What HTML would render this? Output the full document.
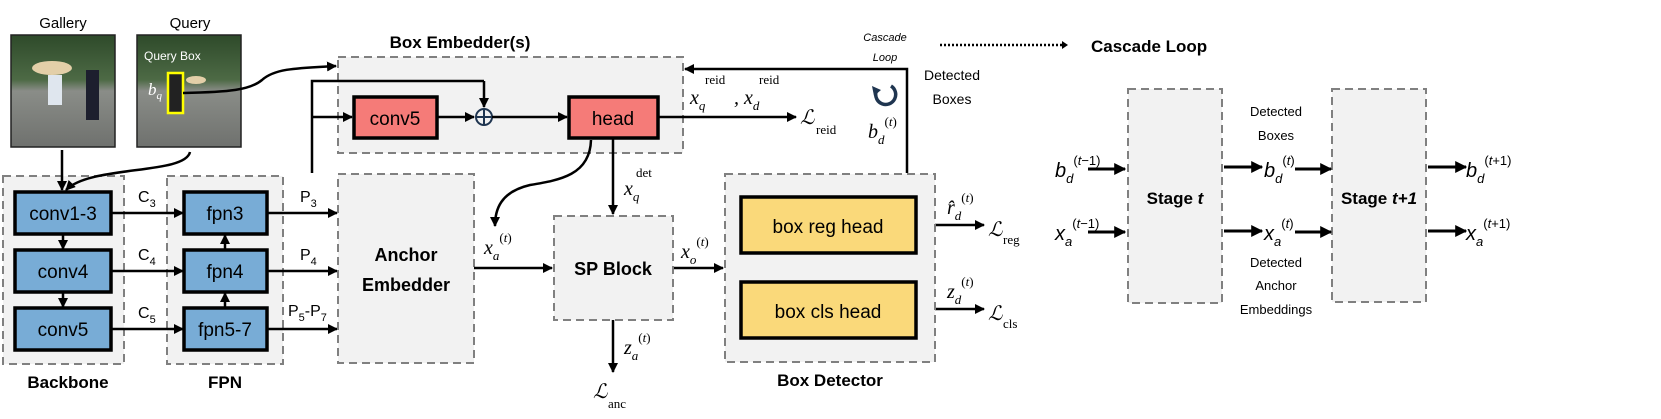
<!DOCTYPE html>
<html><head><meta charset="utf-8"><style>
html,body{margin:0;padding:0;background:#fff;}
svg text{font-family:"Liberation Sans",sans-serif;}
.m{font-family:"Liberation Serif",serif;font-style:italic;}
.r{font-family:"Liberation Serif",serif;}
</style></head><body>
<svg width="1661" height="414" viewBox="0 0 1661 414" xmlns="http://www.w3.org/2000/svg">
<defs>
<marker id="a" viewBox="0 0 10 10" refX="9" refY="5" markerWidth="4" markerHeight="4" orient="auto"><path d="M0,0L10,5L0,10z" fill="#000"/></marker>
<linearGradient id="img" x1="0" y1="0" x2="0" y2="1"><stop offset="0" stop-color="#2e4a2a"/><stop offset="0.4" stop-color="#4d6a45"/><stop offset="0.5" stop-color="#8a8d88"/><stop offset="1" stop-color="#6f716e"/></linearGradient>
</defs>
<!-- images -->
<text x="63" y="28" font-size="15" text-anchor="middle">Gallery</text>
<text x="190" y="28" font-size="15" text-anchor="middle">Query</text>
<rect x="11" y="35" width="104" height="112" fill="url(#img)" stroke="#222" stroke-width="1.5"/>
<ellipse cx="52" cy="68" rx="20" ry="7" fill="#e3cfa8"/>
<rect x="48" y="75" width="14" height="30" fill="#dfe6ee"/>
<rect x="86" y="70" width="13" height="50" fill="#1d1f2e"/>
<rect x="137" y="35" width="104" height="112" fill="url(#img)" stroke="#222" stroke-width="1.5"/>
<text x="144" y="60" font-size="12" fill="#fff">Query Box</text>
<rect x="168" y="73" width="15" height="40" fill="#222" stroke="#ff0" stroke-width="2.5"/>
<ellipse cx="196" cy="80" rx="10" ry="4" fill="#e3cfa8"/>
<text x="148" y="95" font-size="17" fill="#fff" class="m">b<tspan font-size="11" dy="4">q</tspan></text>
<!-- backbone -->
<rect x="3" y="176" width="121" height="188" fill="#f2f2f2" stroke="#808080" stroke-width="2" stroke-dasharray="8,5"/>
<rect x="167" y="176" width="116" height="188" fill="#f2f2f2" stroke="#808080" stroke-width="2" stroke-dasharray="8,5"/>
<g fill="#78acd6" stroke="#000" stroke-width="3.5">
<rect x="15" y="192" width="96" height="42"/><rect x="15" y="250" width="96" height="42"/><rect x="15" y="308" width="96" height="42"/>
<rect x="184" y="192" width="83" height="42"/><rect x="184" y="250" width="83" height="42"/><rect x="184" y="308" width="83" height="42"/>
</g>
<g font-size="19" text-anchor="middle"><text x="63" y="220">conv1-3</text><text x="63" y="278">conv4</text><text x="63" y="336">conv5</text>
<text x="225" y="220">fpn3</text><text x="225" y="278">fpn4</text><text x="225" y="336">fpn5-7</text></g>
<text x="68" y="388" font-size="17" font-weight="bold" text-anchor="middle">Backbone</text>
<text x="225" y="388" font-size="17" font-weight="bold" text-anchor="middle">FPN</text>
<g stroke="#000" stroke-width="2.5" fill="none" marker-end="url(#a)">
<line x1="63" y1="234" x2="63" y2="249"/><line x1="63" y1="292" x2="63" y2="307"/>
<line x1="225" y1="308" x2="225" y2="293"/><line x1="225" y1="250" x2="225" y2="235"/>
<line x1="111" y1="213" x2="183" y2="213"/><line x1="111" y1="271" x2="183" y2="271"/><line x1="111" y1="329" x2="183" y2="329"/>
<line x1="267" y1="213" x2="337" y2="213"/><line x1="267" y1="271" x2="337" y2="271"/><line x1="267" y1="329" x2="337" y2="329"/>
<line x1="62" y1="150" x2="62" y2="190"/>
<path d="M190,152 C185,175 90,165 66,190"/>
<path d="M183,93 C230,92 250,90 262,80 C275,68 300,68 336,66"/>
</g>
<g font-size="16"><text x="138" y="202">C<tspan font-size="11" dy="5">3</tspan></text><text x="138" y="260">C<tspan font-size="11" dy="5">4</tspan></text><text x="138" y="318">C<tspan font-size="11" dy="5">5</tspan></text>
<text x="300" y="202">P<tspan font-size="11" dy="5">3</tspan></text><text x="300" y="260">P<tspan font-size="11" dy="5">4</tspan></text><text x="288" y="316">P<tspan font-size="11" dy="5">5</tspan><tspan dy="-5">-P</tspan><tspan font-size="11" dy="5">7</tspan></text></g>
<!-- anchor embedder -->
<rect x="338" y="174" width="136" height="189" fill="#f2f2f2" stroke="#808080" stroke-width="2" stroke-dasharray="8,5"/>
<text x="406" y="261" font-size="18" font-weight="bold" text-anchor="middle">Anchor</text>
<text x="406" y="291" font-size="18" font-weight="bold" text-anchor="middle">Embedder</text>
<!-- box embedder -->
<text x="460" y="48" font-size="17" font-weight="bold" text-anchor="middle">Box Embedder(s)</text>
<rect x="338" y="57" width="345" height="96" fill="#f2f2f2" stroke="#808080" stroke-width="2" stroke-dasharray="8,5"/>
<rect x="354" y="97" width="83" height="41" fill="#f57b78" stroke="#000" stroke-width="3.5"/>
<text x="395" y="125" font-size="19" text-anchor="middle">conv5</text>
<rect x="569" y="97" width="89" height="41" fill="#f57b78" stroke="#000" stroke-width="3.5"/>
<text x="613" y="125" font-size="19" text-anchor="middle">head</text>
<circle cx="484" cy="117" r="8" fill="none" stroke="#1f3550" stroke-width="2"/>
<line x1="476" y1="117" x2="492" y2="117" stroke="#1f3550" stroke-width="2"/><line x1="484" y1="109" x2="484" y2="125" stroke="#1f3550" stroke-width="2"/>
<g stroke="#000" stroke-width="2.5" fill="none">
<path d="M312,173 V81 H484"/>
<line x1="312" y1="117" x2="352" y2="117" marker-end="url(#a)"/>
<line x1="484" y1="81" x2="484" y2="107" marker-end="url(#a)"/>
<line x1="437" y1="117" x2="474" y2="117" marker-end="url(#a)"/>
<line x1="492" y1="117" x2="567" y2="117" marker-end="url(#a)"/>
<line x1="658" y1="117" x2="796" y2="117" marker-end="url(#a)"/>
<path d="M907,173 V69 H685" marker-end="url(#a)"/>
<line x1="613" y1="138" x2="613" y2="214" marker-end="url(#a)"/>
<path d="M591,140 C590,175 560,180 530,185 C500,192 495,210 495,226" marker-end="url(#a)"/>
<line x1="474" y1="268" x2="552" y2="268" marker-end="url(#a)"/>
<line x1="673" y1="268" x2="723" y2="268" marker-end="url(#a)"/>
<line x1="613" y1="320" x2="613" y2="372" marker-end="url(#a)"/>
<line x1="916" y1="225" x2="984" y2="225" marker-end="url(#a)"/>
<line x1="916" y1="309" x2="984" y2="309" marker-end="url(#a)"/>
</g>
<text x="690" y="104" font-size="20" class="m">x<tspan font-size="13" dy="6">q</tspan></text>
<text x="705" y="84" font-size="13" class="r">reid</text>
<text x="734" y="104" font-size="20" class="m">, x<tspan font-size="13" dy="6">d</tspan></text>
<text x="759" y="84" font-size="13" class="r">reid</text>
<text x="800" y="124" font-size="20" class="m">ℒ</text><text x="816" y="134" font-size="13" class="r">reid</text>
<text x="885" y="41" font-size="11" font-style="italic" text-anchor="middle">Cascade</text>
<text x="885" y="61" font-size="11" font-style="italic" text-anchor="middle">Loop</text>
<path d="M891,86 A10,10 0 1 1 876,92" fill="none" stroke="#1f3550" stroke-width="3.5"/>
<path d="M872,86 L881,90 L874,96z" fill="#1f3550"/>
<text x="952" y="80" font-size="14" text-anchor="middle">Detected</text>
<text x="952" y="104" font-size="14" text-anchor="middle">Boxes</text>
<text x="868" y="138" font-size="20" class="m">b<tspan font-size="13" dy="6">d</tspan><tspan font-size="13" dy="-18" font-style="normal">(</tspan><tspan font-size="13">t</tspan><tspan font-size="13" font-style="normal">)</tspan></text>
<text x="624" y="195" font-size="20" class="m">x<tspan font-size="13" dy="6">q</tspan></text>
<text x="636" y="177" font-size="13" class="r">det</text>
<text x="484" y="254" font-size="20" class="m">x<tspan font-size="13" dy="6">a</tspan><tspan font-size="13" dy="-18" font-style="normal">(</tspan><tspan font-size="13">t</tspan><tspan font-size="13" font-style="normal">)</tspan></text>
<!-- SP block -->
<rect x="554" y="216" width="119" height="104" fill="#f2f2f2" stroke="#808080" stroke-width="2" stroke-dasharray="8,5"/>
<text x="613" y="275" font-size="18" font-weight="bold" text-anchor="middle">SP Block</text>
<text x="681" y="258" font-size="20" class="m">x<tspan font-size="13" dy="6">o</tspan><tspan font-size="13" dy="-18" font-style="normal">(</tspan><tspan font-size="13">t</tspan><tspan font-size="13" font-style="normal">)</tspan></text>
<text x="624" y="354" font-size="20" class="m">z<tspan font-size="13" dy="6">a</tspan><tspan font-size="13" dy="-18" font-style="normal">(</tspan><tspan font-size="13">t</tspan><tspan font-size="13" font-style="normal">)</tspan></text>
<text x="593" y="398" font-size="20" class="m">ℒ</text><text x="608" y="408" font-size="13" class="r">anc</text>
<!-- box detector -->
<rect x="725" y="174" width="210" height="188" fill="#f2f2f2" stroke="#808080" stroke-width="2" stroke-dasharray="8,5"/>
<rect x="741" y="197" width="175" height="56" fill="#fad97a" stroke="#000" stroke-width="3.5"/>
<rect x="741" y="282" width="175" height="56" fill="#fad97a" stroke="#000" stroke-width="3.5"/>
<text x="828" y="233" font-size="19" text-anchor="middle">box reg head</text>
<text x="828" y="318" font-size="19" text-anchor="middle">box cls head</text>
<text x="830" y="386" font-size="17" font-weight="bold" text-anchor="middle">Box Detector</text>
<text x="947" y="214" font-size="20" class="m">r̂<tspan font-size="13" dy="6">d</tspan><tspan font-size="13" dy="-18" font-style="normal">(</tspan><tspan font-size="13">t</tspan><tspan font-size="13" font-style="normal">)</tspan></text>
<text x="947" y="298" font-size="20" class="m">z<tspan font-size="13" dy="6">d</tspan><tspan font-size="13" dy="-18" font-style="normal">(</tspan><tspan font-size="13">t</tspan><tspan font-size="13" font-style="normal">)</tspan></text>
<text x="988" y="236" font-size="20" class="m">ℒ</text><text x="1003" y="244" font-size="13" class="r">reg</text>
<text x="988" y="320" font-size="20" class="m">ℒ</text><text x="1003" y="328" font-size="13" class="r">cls</text>
<!-- cascade loop legend -->
<line x1="940" y1="45" x2="1062" y2="45" stroke="#000" stroke-width="2.5" stroke-dasharray="2,2"/>
<path d="M1062,41 L1068,45 L1062,49z"/>
<text x="1091" y="52" font-size="17" font-weight="bold">Cascade Loop</text>
<rect x="1128" y="89" width="94" height="214" fill="#f2f2f2" stroke="#808080" stroke-width="2" stroke-dasharray="8,5"/>
<rect x="1332" y="89" width="94" height="213" fill="#f2f2f2" stroke="#808080" stroke-width="2" stroke-dasharray="8,5"/>
<text x="1175" y="204" font-size="17" font-weight="bold" text-anchor="middle">Stage <tspan font-style="italic">t</tspan></text>
<text x="1379" y="204" font-size="17" font-weight="bold" text-anchor="middle">Stage <tspan font-style="italic">t+1</tspan></text>
<g font-size="13" text-anchor="middle"><text x="1276" y="116">Detected</text><text x="1276" y="140">Boxes</text>
<text x="1276" y="267">Detected</text><text x="1276" y="290">Anchor</text><text x="1276" y="314">Embeddings</text></g>
<g stroke="#000" stroke-width="3" marker-end="url(#a)">
<line x1="1088" y1="169" x2="1125" y2="169"/><line x1="1088" y1="232" x2="1125" y2="232"/>
<line x1="1224" y1="167" x2="1262" y2="167"/><line x1="1224" y1="231" x2="1262" y2="231"/>
<line x1="1295" y1="169" x2="1331" y2="169"/><line x1="1295" y1="232" x2="1331" y2="232"/>
<line x1="1428" y1="167" x2="1466" y2="167"/><line x1="1428" y1="231" x2="1466" y2="231"/>
</g>
<g font-size="20" class="m">
<text x="1055" y="177">b<tspan font-size="13" dy="6">d</tspan><tspan font-size="13" dy="-18" font-style="normal">(</tspan><tspan font-size="13">t</tspan><tspan font-size="13" font-style="normal">−1)</tspan></text>
<text x="1055" y="240">x<tspan font-size="13" dy="6">a</tspan><tspan font-size="13" dy="-18" font-style="normal">(</tspan><tspan font-size="13">t</tspan><tspan font-size="13" font-style="normal">−1)</tspan></text>
<text x="1264" y="177">b<tspan font-size="13" dy="6">d</tspan><tspan font-size="13" dy="-18" font-style="normal">(</tspan><tspan font-size="13">t</tspan><tspan font-size="13" font-style="normal">)</tspan></text>
<text x="1264" y="240">x<tspan font-size="13" dy="6">a</tspan><tspan font-size="13" dy="-18" font-style="normal">(</tspan><tspan font-size="13">t</tspan><tspan font-size="13" font-style="normal">)</tspan></text>
<text x="1466" y="177">b<tspan font-size="13" dy="6">d</tspan><tspan font-size="13" dy="-18" font-style="normal">(</tspan><tspan font-size="13">t</tspan><tspan font-size="13" font-style="normal">+1)</tspan></text>
<text x="1466" y="240">x<tspan font-size="13" dy="6">a</tspan><tspan font-size="13" dy="-18" font-style="normal">(</tspan><tspan font-size="13">t</tspan><tspan font-size="13" font-style="normal">+1)</tspan></text>
</g>
</svg>
</body></html>
